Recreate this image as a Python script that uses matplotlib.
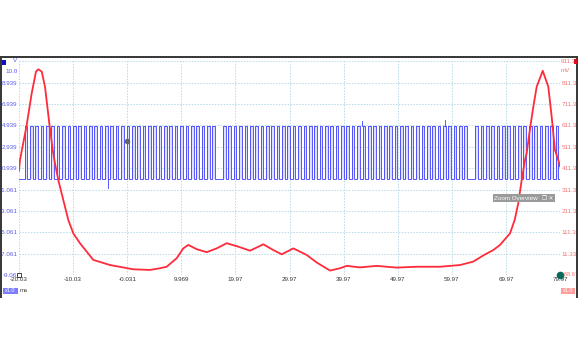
import matplotlib.pyplot as plt
import numpy as np
from matplotlib.patches import Rectangle

plt.rcParams['font.family'] = ['Liberation Sans Narrow', 'Liberation Sans', 'DejaVu Sans']

# time axis (ms)
time_ticks = [-20.03, -10.03, -0.031, 9.969, 19.97, 29.97, 39.97, 49.97, 59.97, 69.97, 79.97]
time_labels = ['-20.03', '-10.03', '-0.031', '9.969', '19.97', '29.97', '39.97', '49.97', '59.97', '69.97', '79.97']

# channel A (V), left scale
volt_ticks = [8.939, 6.939, 4.939, 2.939, 0.939, -1.061, -3.061, -5.061, -7.061, -9.061]
volt_labels = ['8.939', '6.939', '4.939', '2.939', '0.939', '-1.061', '-3.061', '-5.061', '-7.061', '-9.06']

# channel B (mV), right scale
mv_ticks = [811.3, 711.3, 611.3, 511.3, 411.3, 311.3, 211.3, 111.3, 11.33]
mv_labels = ['811.3', '711.3', '611.3', '511.3', '411.3', '311.3', '211.3', '111.3', '11.33']

# channel A: clock burst
clock_period = 0.9915     # ms
clock_high = 4.91         # V
clock_low = -0.06         # V
missing_pulses = [16.7, 63.3]   # rising edges that never came (ms)
glitch_t = [-3.58, 43.37, 58.71]   # short spikes (ms)
glitch_v = [-0.92, 5.35, 5.44]

# channel B: slow analog trace
slow_t = [-20.03, -19.85, -18.61, -17.68, -16.89, -16.46, -15.83, -15.22, -14.43, -13.80,
          -13.38, -12.77, -11.84, -10.92, -9.99, -8.76, -6.30, -3.21, 1.10, 4.18,
          6.03, 7.27, 9.12, 10.34, 11.26, 12.82, 14.67, 16.51, 18.36, 20.51,
          22.67, 25.13, 26.98, 28.53, 30.67, 33.15, 34.99, 37.46, 39.30, 40.54,
          43.00, 46.09, 49.78, 53.48, 57.79, 61.49, 63.94, 65.79, 67.64, 68.88,
          70.73, 71.60, 72.26, 72.89, 73.50, 73.81, 74.30, 75.04, 75.66, 76.78,
          77.81, 78.43, 79.04, 79.66, 79.97]
slow_mv = [400, 449, 613, 762, 863, 874, 863, 792, 621, 496,
           434, 356, 262, 169, 106, 60, -18, -42, -62, -65,
           -57, -50, -10, 36, 52, 32, 18, 36, 60, 44,
           25, 55, 28, 8, 36, 5, -30, -68, -57, -46,
           -53, -46, -54, -50, -50, -42, -26, 3, 28, 52,
           106, 170, 247, 356, 449, 481, 574, 699, 792, 867,
           792, 652, 496, 449, 420]

W, H = 578, 350
fig = plt.figure(figsize=(W / 100, H / 100), dpi=100, facecolor='white')

def fx(px):
    return px / W

def fy(py):
    return 1 - py / H

# scope window frame
frame_kw = dict(transform=fig.transFigure, facecolor='#3a3a3a', edgecolor='none', zorder=5)
fig.add_artist(Rectangle((0, fy(58)), 1, 2 / H, **frame_kw))
fig.add_artist(Rectangle((0, fy(298)), 2 / W, fy(57) - fy(298), **frame_kw))
fig.add_artist(Rectangle((fx(576), fy(298)), 2 / W, fy(57) - fy(298), **frame_kw))

ax = fig.add_axes([fx(19), fy(275), fx(560) - fx(19), fy(61.3) - fy(275)])
ax.set_xlim(-20.03, 79.97)
ax.set_ylim(-9.061, 10.939)
ax.patch.set_alpha(0)
for s in ax.spines.values():
    s.set_visible(False)

grid_kw = dict(color='#b5dbe6', lw=0.7, ls=(0, (1.5, 1.5)), zorder=0)
for t in time_ticks:
    ax.axvline(t, **grid_kw)
for v in volt_ticks + [10.939]:
    ax.axhline(v, **grid_kw)

lbl = 4.5
ax.set_xticks(time_ticks)
ax.set_xticklabels(time_labels, fontsize=lbl, color='#333333')
ax.set_yticks(volt_ticks + [10.0])
ax.set_yticklabels(volt_labels + ['10.0'], fontsize=lbl, color='#5a5aee')
ax.tick_params(axis='both', length=0, pad=1.2)

# build the clock square wave
edges_t, edges_v = [time_ticks[0]], [clock_low]
t = missing_pulses[0] - clock_period * np.ceil((missing_pulses[0] - time_ticks[0]) / clock_period)
while t < time_ticks[-1]:
    skip = any(abs(t - m) < clock_period / 2 for m in missing_pulses)
    if not skip and t > time_ticks[0] + 0.1:
        fall = min(t + clock_period / 2, time_ticks[-1])
        edges_t += [t, t, fall, fall]
        edges_v += [clock_low, clock_high, clock_high, clock_low]
    t += clock_period
edges_t.append(time_ticks[-1])
edges_v.append(clock_low)
ax.fill_between(edges_t, clock_low, edges_v, color='#dedeff', lw=0, zorder=2)
ax.plot(edges_t, edges_v, color='#3b3bff', lw=0.6, zorder=3)
for gt, gv in zip(glitch_t, glitch_v):
    base = clock_low if gv < 0 else clock_high
    ax.plot([gt, gt], [base, gv], color='#3b3bff', lw=0.6, zorder=3)

ax2 = ax.twinx()
ax2.set_ylim(-88.67, 911.33)
ax2.patch.set_alpha(0)
for s in ax2.spines.values():
    s.set_visible(False)
ax2.plot(slow_t, slow_mv, color='#ff2a3a', lw=1.3, zorder=4)
ax2.set_yticks(mv_ticks)
ax2.set_yticklabels(mv_labels, fontsize=lbl, color='#f07878')
ax2.tick_params(axis='y', length=0, pad=1.2)

# scale markers and small annotations
fig.add_artist(Rectangle((fx(2), fy(65)), 4 / W, 5 / H, transform=fig.transFigure,
                         facecolor='#1010c0', edgecolor='none', zorder=6))
fig.text(fx(15.5), fy(61), 'V', fontsize=lbl, color='#5a5aee', ha='center', va='center')
fig.add_artist(Rectangle((fx(574), fy(64)), 3 / W, 5 / H, transform=fig.transFigure,
                         facecolor='#dd1020', edgecolor='none', zorder=6))
fig.text(fx(561), fy(61.3), '911.3', fontsize=lbl, color='#f07878', ha='left', va='center')
fig.text(fx(561), fy(70.5), 'mV', fontsize=lbl, color='#f07878', ha='left', va='center')
fig.text(fx(562.5), fy(275), '-88.67', fontsize=4.1, color='#f07878', ha='left', va='center')
ax2.plot([79.97], [-88.67], 'o', ms=4.5, color='#0a6a5a', clip_on=False, zorder=6)
ax.plot([-20.03], [-9.061], 's', ms=3, mfc='white', mec='#222222', mew=0.6, clip_on=False, zorder=6)
ax.plot([-0.07], [3.48], 'o', ms=3, color='#666666', zorder=6)

# zoom overview tab
fig.add_artist(Rectangle((fx(492.5), fy(202)), (555 - 492.5) / W, 8 / H, transform=fig.transFigure,
                         facecolor='#9a9a9a', edgecolor='none', zorder=10))
fig.text(fx(494), fy(198), 'Zoom Overview', fontsize=4.5, color='white', ha='left', va='center', zorder=11)
fig.text(fx(542), fy(198), '\u2750 \u2715', fontsize=4, color='white', ha='left', va='center',
         family=['DejaVu Sans'], zorder=11)

# horizontal scale badges
fig.add_artist(Rectangle((fx(3), fy(294)), 15 / W, 6.5 / H, transform=fig.transFigure,
                         facecolor='#7c7cff', edgecolor='none'))
fig.text(fx(10.5), fy(290.7), 'x1.0', fontsize=4, color='white', ha='center', va='center')
fig.text(fx(20), fy(290.7), 'ms', fontsize=lbl, color='#444444', ha='left', va='center')
fig.add_artist(Rectangle((fx(560.5), fy(293.5)), 14.5 / W, 6 / H, transform=fig.transFigure,
                         facecolor='#ff9d9d', edgecolor='none'))
fig.text(fx(567.7), fy(290.5), 'x1.0', fontsize=4, color='white', ha='center', va='center')

fig.savefig('out.png', dpi=100)
